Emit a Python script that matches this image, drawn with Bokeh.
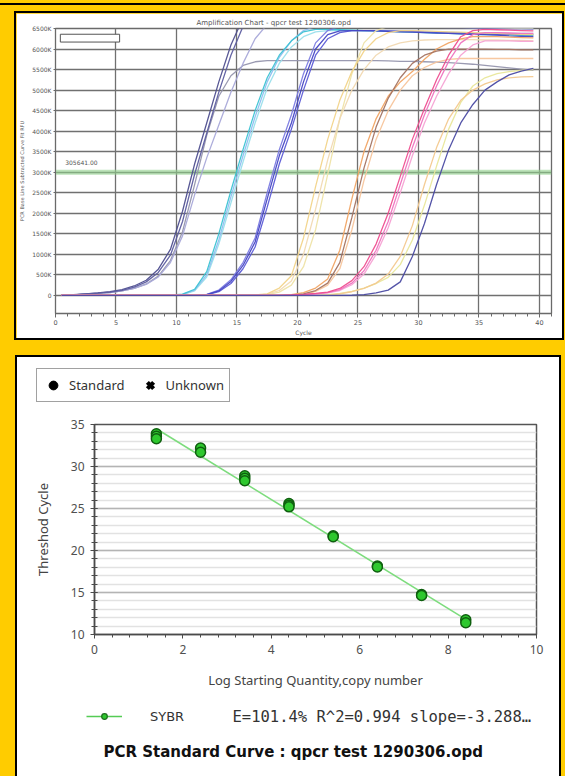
from bokeh.plotting import figure
from bokeh.layouts import column, row
from bokeh.models import (Range1d, FixedTicker, SingleIntervalTicker, Span, Label,
                          BoxAnnotation, Legend, LegendItem, Spacer)
from bokeh.embed import file_html
from bokeh.resources import INLINE

# ---------------- data: amplification chart ----------------
cycles = [c + 0.5 for c in range(40)]
rfu_ticks = [0, 500, 1000, 1500, 2000, 2500, 3000, 3500, 4000, 4500, 5000, 5500, 6000, 6500]
rfu_tick_labels = ["0", "500K", "1000K", "1500K", "2000K", "2500K", "3000K", "3500K",
                   "4000K", "4500K", "5000K", "5500K", "6000K", "6500K"]
threshold = 3000
threshold_text = "305641.00"

A1 = [5, 20, 40, 60, 90, 140, 230, 370, 640, 1120,
      2050, 3200, 4200, 5200, 6100, 6750, 7000, 7100, 7100, 7100,
      7100, 7100, 7100, 7100, 7100, 7100, 7100, 7100, 7100, 7100,
      7100, 7100, 7100, 7100, 7100, 7100, 7100, 7100, 7100, 7100]
A2 = [5, 15, 35, 55, 80, 125, 200, 330, 560, 980,
      1800, 2950, 3950, 4950, 5850, 6550, 6950, 7100, 7100, 7100,
      7100, 7100, 7100, 7100, 7100, 7100, 7100, 7100, 7100, 7100,
      7100, 7100, 7100, 7100, 7100, 7100, 7100, 7100, 7100, 7100]
A3 = [5, 15, 30, 50, 70, 110, 170, 270, 450, 800,
      1450, 2450, 3350, 4150, 4950, 5650, 6250, 6600, 6700, 6720,
      6720, 6720, 6720, 6720, 6720, 6720, 6720, 6720, 6720, 6720,
      6720, 6720, 6720, 6720, 6720, 6720, 6720, 6720, 6720, 6720]
A4 = [5, 15, 30, 50, 70, 110, 170, 280, 470, 850,
      1550, 2700, 3900, 4850, 5350, 5600, 5690, 5720, 5720, 5720,
      5720, 5720, 5720, 5720, 5720, 5720, 5720, 5710, 5700, 5700,
      5690, 5680, 5670, 5650, 5630, 5600, 5570, 5540, 5510, 5480]
B1 = [0, 0, 0, 0, 0, 0, 0, 0, 0, 5,
      30, 150, 580, 1500, 2550, 3550, 4500, 5300, 5850, 6200,
      6420, 6480, 6480, 6470, 6460, 6450, 6440, 6430, 6420, 6410,
      6400, 6390, 6380, 6370, 6360, 6350, 6345, 6340, 6335, 6330]
B2 = [0, 0, 0, 0, 0, 0, 0, 0, 0, 0,
      20, 110, 450, 1250, 2250, 3250, 4200, 5050, 5650, 6050,
      6300, 6420, 6450, 6450, 6450, 6440, 6440, 6430, 6430, 6420,
      6420, 6410, 6410, 6400, 6400, 6390, 6390, 6380, 6380, 6380]
B3 = [0, 0, 0, 0, 0, 0, 0, 0, 0, 5,
      25, 130, 500, 1350, 2400, 3400, 4350, 5200, 5800, 6200,
      6450, 6550, 6580, 6580, 6570, 6570, 6560, 6560, 6550, 6550,
      6540, 6540, 6530, 6530, 6520, 6520, 6510, 6510, 6500, 6500]
C1 = [0, 0, 0, 0, 0, 0, 0, 0, 0, 0,
      0, 0, 20, 110, 340, 730, 1300, 2350, 3400, 4200,
      5200, 6000, 6350, 6440, 6450, 6450, 6440, 6430, 6420, 6410,
      6400, 6390, 6380, 6370, 6360, 6350, 6340, 6320, 6310, 6300]
C2 = [0, 0, 0, 0, 0, 0, 0, 0, 0, 0,
      0, 0, 15, 90, 290, 650, 1180, 2150, 3200, 4050,
      5000, 5850, 6250, 6400, 6450, 6450, 6450, 6440, 6440, 6430,
      6420, 6410, 6400, 6390, 6380, 6370, 6360, 6360, 6350, 6350]
C3 = [0, 0, 0, 0, 0, 0, 0, 0, 0, 0,
      0, 0, 25, 130, 380, 800, 1400, 2500, 3550, 4400,
      5400, 6150, 6450, 6550, 6560, 6560, 6550, 6550, 6540, 6540,
      6530, 6530, 6520, 6520, 6510, 6500, 6500, 6490, 6490, 6480]
D1 = [0, 0, 0, 0, 0, 0, 0, 0, 0, 0,
      0, 0, 0, 0, 0, 0, 10, 40, 180, 480,
      1400, 2650, 3800, 4750, 5450, 5950, 6250, 6400, 6450, 6450,
      6440, 6430, 6420, 6410, 6400, 6390, 6380, 6370, 6360, 6350]
D2 = [0, 0, 0, 0, 0, 0, 0, 0, 0, 0,
      0, 0, 0, 0, 0, 0, 0, 20, 80, 250,
      700, 1600, 2950, 4300, 5400, 6150, 6450, 6550, 6560, 6560,
      6550, 6550, 6540, 6540, 6530, 6530, 6520, 6510, 6500, 6500]
D3 = [0, 0, 0, 0, 0, 0, 0, 0, 0, 0,
      0, 0, 0, 0, 0, 0, 0, 30, 120, 350,
      1000, 2100, 3300, 4300, 5000, 5500, 5850, 6050, 6150, 6200,
      6220, 6230, 6230, 6230, 6230, 6220, 6220, 6210, 6210, 6200]
E1 = [0, 0, 0, 0, 0, 0, 0, 0, 0, 0,
      0, 0, 0, 0, 0, 0, 0, 0, 0, 20,
      70, 180, 400, 1100, 2350, 3500, 4300, 4850, 5200, 5450,
      5750, 6000, 6150, 6250, 6300, 6300, 6300, 6290, 6280, 6270]
E2 = [0, 0, 0, 0, 0, 0, 0, 0, 0, 0,
      0, 0, 0, 0, 0, 0, 0, 0, 0, 0,
      40, 120, 300, 800, 1900, 3100, 4100, 4800, 5300, 5650,
      5850, 5950, 6000, 6000, 6000, 6000, 5990, 5990, 5980, 5980]
E3 = [0, 0, 0, 0, 0, 0, 0, 0, 0, 0,
      0, 0, 0, 0, 0, 0, 0, 0, 0, 0,
      0, 100, 250, 650, 1600, 2800, 3800, 4500, 5000, 5350,
      5550, 5680, 5750, 5770, 5770, 5770, 5770, 5770, 5770, 5770]
F1 = [0, 0, 0, 0, 0, 0, 0, 0, 0, 0,
      0, 0, 0, 0, 0, 0, 0, 0, 0, 10,
      25, 50, 80, 170, 360, 700, 1250, 2000, 2900, 3800,
      4550, 5250, 5850, 6300, 6450, 6480, 6470, 6460, 6450, 6440]
F2 = [0, 0, 0, 0, 0, 0, 0, 0, 0, 0,
      0, 0, 0, 0, 0, 0, 0, 0, 0, 0,
      20, 40, 70, 140, 300, 600, 1100, 1800, 2700, 3600,
      4400, 5100, 5700, 6150, 6350, 6400, 6400, 6390, 6380, 6380]
F3 = [0, 0, 0, 0, 0, 0, 0, 0, 0, 0,
      0, 0, 0, 0, 0, 0, 0, 0, 0, 0,
      15, 35, 60, 120, 260, 520, 1000, 1650, 2500, 3400,
      4200, 4850, 5400, 5850, 6100, 6200, 6200, 6200, 6190, 6190]
G1 = [0, 0, 0, 0, 0, 0, 0, 0, 0, 0,
      0, 0, 0, 0, 0, 0, 0, 0, 0, 0,
      0, 0, 20, 50, 100, 180, 290, 440, 750, 1350,
      2200, 3150, 4050, 4700, 5100, 5300, 5400, 5450, 5480, 5500]
G2 = [0, 0, 0, 0, 0, 0, 0, 0, 0, 0,
      0, 0, 0, 0, 0, 0, 0, 0, 0, 0,
      0, 0, 0, 40, 90, 170, 300, 520, 950, 1700,
      2700, 3600, 4300, 4750, 5000, 5150, 5250, 5300, 5320, 5330]
H1 = [0, 0, 0, 0, 0, 0, 0, 0, 0, 0,
      0, 0, 0, 0, 0, 0, 0, 0, 0, 0,
      0, 0, 0, 0, 5, 20, 60, 130, 330, 950,
      1750, 2700, 3550, 4200, 4650, 5000, 5200, 5370, 5460, 5530]

curves = [A4, A3, A1, A2, B2, B3, B1, C3, C2, C1, D2, D3, D1, E3, E1, E2,
          G1, G2, F3, F2, F1, H1]
curve_colors = ["#9595ad", "#a9a9d9", "#4f4f8f", "#5d5da0",
                "#9adfeb", "#8fbff0", "#3cc3d3",
                "#7c7ce2", "#5c5cd6", "#4646c4",
                "#eee3a6", "#f1d9b2", "#f2d48a",
                "#f7c59c", "#f1a565", "#a47462",
                "#e9e79b", "#f3c98f",
                "#f6a3d4", "#ef74c0", "#ee4f8f",
                "#4b4ba3"]
for c in curves:
    assert len(c) == 40

# ---------------- data: standard curve ----------------
std_logq = [1.4, 1.4, 1.4, 2.4, 2.4, 3.4, 3.4, 3.4, 4.4, 4.4, 4.4,
            5.4, 5.4, 6.4, 6.4, 7.4, 7.4, 8.4, 8.4]
std_ct = [33.9, 33.6, 33.3, 32.2, 31.7, 28.9, 28.6, 28.3, 25.6, 25.4, 25.2,
          21.75, 21.65, 18.15, 18.05, 14.75, 14.65, 11.75, 11.4]
fit_logq = [1.4, 8.4]
fit_ct = [34.5, 11.8]
fit_stats = "E=101.4% R^2=0.994 slope=-3.288\u2026"
std_title = "PCR Standard Curve  : qpcr test 1290306.opd"

YELLOW = "#FFCC00"
SMALL = "DejaVu Sans"
FONT = "Noto Sans"

# ================= top figure: amplification chart =================
p1 = figure(width=546, height=325, x_range=Range1d(0, 41), y_range=Range1d(-440, 6500),
            output_backend="svg", toolbar_location=None, frame_align=False,
            min_border_left=36, min_border_right=11, min_border_top=15, min_border_bottom=20)
p1.styles = {"outline": "2px solid black"}
p1.background_fill_color = "white"
p1.border_fill_color = "white"
p1.outline_line_color = "#6a6a6a"
p1.outline_line_width = 1.3

p1.title.text = "Amplification Chart - qpcr test 1290306.opd"
p1.title.text_font = SMALL
p1.title.text_font_size = "7px"
p1.title.text_font_style = "normal"
p1.title.text_color = "#555555"
p1.title.align = "left"
p1.title.offset = 141
p1.title.standoff = 3

xa = p1.xaxis[0]
xa.ticker = SingleIntervalTicker(interval=5, num_minor_ticks=5)
xa.axis_label = "Cycle"
xa.axis_label_text_font = SMALL
xa.axis_label_text_font_size = "6px"
xa.axis_label_text_font_style = "normal"
xa.axis_label_text_color = "#555555"
xa.axis_label_standoff = 1
xa.major_label_text_font = SMALL
xa.major_label_text_font_size = "6.5px"
xa.major_label_text_color = "#555555"
xa.major_label_standoff = 2
xa.major_tick_in = 0
xa.major_tick_out = 4
xa.minor_tick_in = 0
xa.minor_tick_out = 3
xa.axis_line_color = "#6a6a6a"
xa.major_tick_line_color = "#6a6a6a"
xa.minor_tick_line_color = "#6a6a6a"

ya = p1.yaxis[0]
ya.ticker = FixedTicker(ticks=rfu_ticks)
ya.major_label_overrides = {t: s for t, s in zip(rfu_ticks, rfu_tick_labels)}
ya.axis_label = "PCR Base Line Subtracted Curve Fit RFU"
ya.axis_label_text_font = SMALL
ya.axis_label_text_font_size = "5px"
ya.axis_label_text_font_style = "normal"
ya.axis_label_text_color = "#555555"
ya.axis_label_standoff = 4
ya.major_label_text_font = SMALL
ya.major_label_text_font_size = "6px"
ya.major_label_text_color = "#555555"
ya.major_label_standoff = 2
ya.major_tick_in = 0
ya.major_tick_out = 2
ya.minor_tick_line_color = None
ya.axis_line_color = "#6a6a6a"
ya.major_tick_line_color = "#6a6a6a"

p1.xgrid.grid_line_color = "#707070"
p1.xgrid.grid_line_width = 1.3
p1.ygrid.grid_line_color = "#707070"
p1.ygrid.grid_line_width = 1.5

p1.add_layout(Span(location=threshold, dimension="width", line_color="#8fd18a",
                   line_width=5, line_alpha=0.6, level="underlay"))
p1.add_layout(Label(x=0.8, y=3230, text=threshold_text, text_font=SMALL,
                    text_font_size="6px", text_color="#555555", text_baseline="middle"))
p1.add_layout(BoxAnnotation(left=0.4, right=5.3, bottom=6170, top=6360,
                            fill_color="white", fill_alpha=1.0,
                            line_color="#555555", line_width=1, line_alpha=1.0))

for vals, col in zip(curves, curve_colors):
    p1.line(cycles, vals, line_color=col, line_width=1.3, line_alpha=0.95)

# ================= bottom: header (legend box) =================
hp = figure(width=542, height=52, x_range=Range1d(0, 542), y_range=Range1d(0, 52),
            x_axis_location=None, y_axis_location=None, output_backend="svg",
            toolbar_location=None, min_border=0, frame_align=False)
hp.grid.visible = False
hp.outline_line_color = None
hp.background_fill_color = "white"
hp.border_fill_color = "white"
# legend proxies (kept outside the visible range)
r_std = hp.scatter([-50], [-50], marker="circle", fill_color="black", line_color="black")
r_unk = hp.scatter([-50], [-50], marker="x", line_color="black", line_width=4.2)
leg1 = Legend(items=[LegendItem(label="Standard", renderers=[r_std]),
                     LegendItem(label="Unknown", renderers=[r_unk])],
              orientation="horizontal", location=(19, 7),
              glyph_width=22, glyph_height=22, label_height=20, label_standoff=5,
              spacing=14, padding=5, margin=0,
              label_text_font=FONT, label_text_font_size="13px", label_text_color="#333333",
              border_line_color="#444444", border_line_width=1.3,
              background_fill_color="white", background_fill_alpha=1.0)
hp.add_layout(leg1)

# ================= bottom: standard curve chart =================
p2 = figure(width=542, height=287, x_range=Range1d(0, 10), y_range=Range1d(10, 35),
            output_backend="svg", toolbar_location=None, frame_align=False,
            min_border_left=77, min_border_right=23, min_border_top=15, min_border_bottom=62)
p2.background_fill_color = "white"
p2.border_fill_color = "white"
p2.outline_line_color = "#555555"
p2.outline_line_width = 1.5

bx = p2.xaxis[0]
bx.ticker = SingleIntervalTicker(interval=2, num_minor_ticks=5)
bx.axis_label = "Log Starting Quantity,copy number"
bx.axis_label_text_font = FONT
bx.axis_label_text_font_size = "13px"
bx.axis_label_text_font_style = "normal"
bx.axis_label_text_color = "#444444"
bx.axis_label_standoff = 14
bx.major_label_text_font = FONT
bx.major_label_text_font_size = "12px"
bx.major_label_text_color = "#505050"
bx.major_label_standoff = 6
bx.major_tick_in = 0
bx.major_tick_out = 4
bx.minor_tick_in = 0
bx.minor_tick_out = 3
bx.axis_line_width = 1.5

by = p2.yaxis[0]
by.ticker = SingleIntervalTicker(interval=5, num_minor_ticks=5)
by.axis_label = "Threshod Cycle"
by.axis_label_text_font = FONT
by.axis_label_text_font_size = "13px"
by.axis_label_text_font_style = "normal"
by.axis_label_text_color = "#444444"
by.axis_label_standoff = 16
by.major_label_text_font = FONT
by.major_label_text_font_size = "12px"
by.major_label_text_color = "#505050"
by.major_label_standoff = 6
by.major_tick_in = 3
by.major_tick_out = 4
by.minor_tick_in = 3
by.minor_tick_out = 3
by.axis_line_width = 1.5

for ax in (bx, by):
    ax.axis_line_color = "#4a4a4a"
    ax.major_tick_line_color = "#4a4a4a"
    ax.minor_tick_line_color = "#4a4a4a"

p2.xgrid.grid_line_color = None
p2.ygrid.grid_line_color = "#b4b4b4"
p2.ygrid.grid_line_width = 1.5
p2.ygrid.minor_grid_line_color = "#e2e2e2"
p2.ygrid.minor_grid_line_width = 1.5

p2.line(fit_logq, fit_ct, line_color="#7ddc7d", line_width=1.6)
p2.scatter(std_logq, std_ct, marker="circle", size=10, fill_color="#2ec82e",
           line_color="#0f5f0f", line_width=1.5)

# ================= bottom: footer (series legend + title) =================
fp = figure(width=542, height=80, x_range=Range1d(0, 542), y_range=Range1d(0, 80),
            x_axis_location=None, y_axis_location=None, output_backend="svg",
            toolbar_location=None, min_border=0, frame_align=False)
fp.grid.visible = False
fp.outline_line_color = None
fp.background_fill_color = "white"
fp.border_fill_color = "white"
r_fl = fp.line([-60, -50], [-50, -50], line_color="#55cc55", line_width=1.6)
r_fm = fp.scatter([-50], [-50], marker="circle", fill_color="#2ec82e", line_color="#1d6b1d",
                  line_width=1.2)
leg2 = Legend(items=[LegendItem(label="SYBR", renderers=[r_fl, r_fm])],
              location=(69, 51), glyph_width=36, glyph_height=14, label_height=18,
              label_standoff=28, padding=0, margin=0, spacing=0,
              label_text_font="DejaVu Sans", label_text_font_size="13px",
              label_text_color="#333333",
              border_line_color=None, background_fill_alpha=0.0)
fp.add_layout(leg2)
fp.add_layout(Label(x=215, y=60, text=fit_stats, text_font="DejaVu Sans Mono",
                    text_font_size="15.5px", text_color="#333333", text_baseline="middle"))
fp.add_layout(Label(x=86, y=25, text=std_title,
                    text_font="DejaVu Sans", text_font_style="bold", text_font_size="15px",
                    text_color="#111111", text_baseline="middle"))

bottom_panel = column(hp, p2, fp, spacing=0,
                      styles={"outline": "2px solid black", "background-color": "white"})

layout = column(
    Spacer(width=565, height=13),
    row(Spacer(width=16, height=325), p1, spacing=0),
    Spacer(width=565, height=19),
    row(Spacer(width=17, height=419), bottom_panel, spacing=0),
    spacing=0,
    styles={"background": "linear-gradient(to bottom, #FFCC00 0px, #FFCC00 3px, "
                          "#000000 3px, #000000 5px, #FFCC00 5px)"},
)

open("out.html", "w").write(file_html(layout, INLINE))
